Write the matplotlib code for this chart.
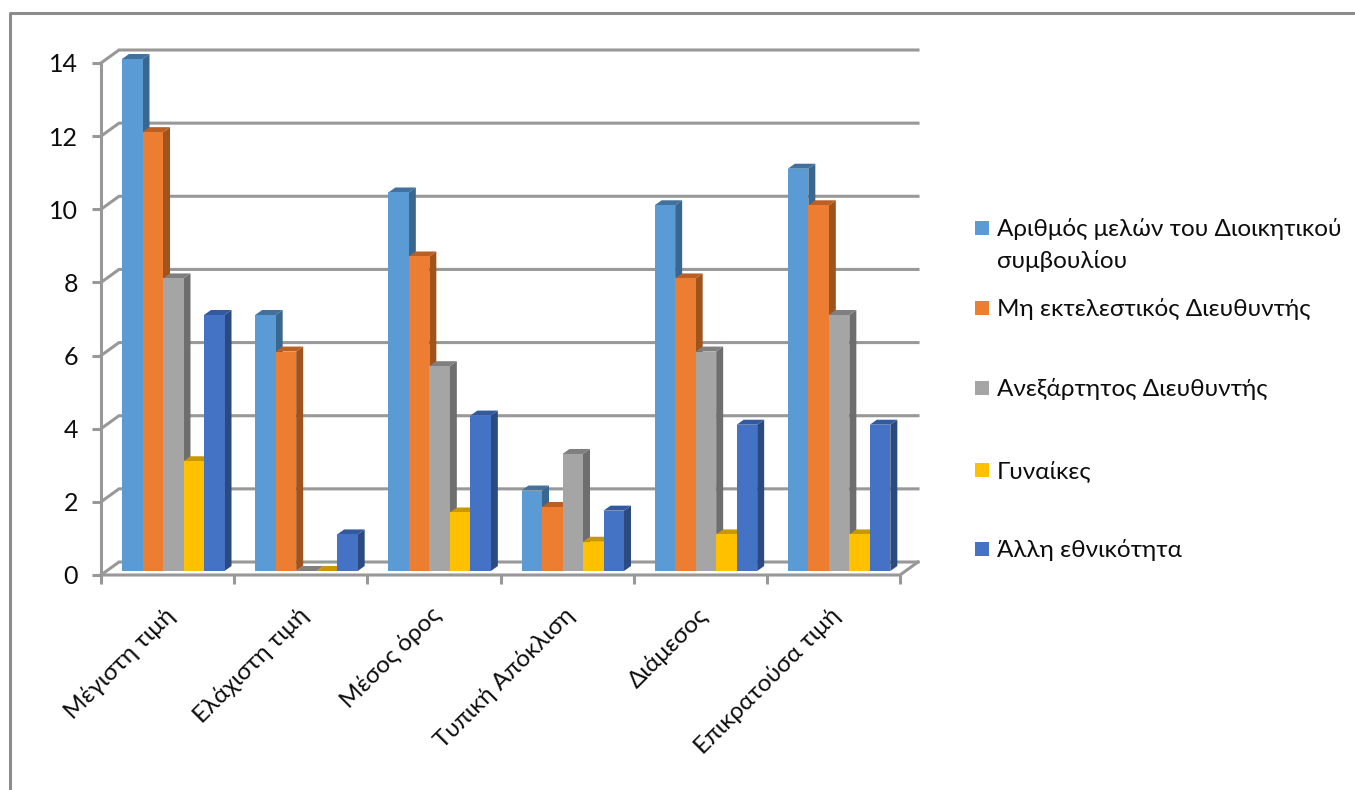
import matplotlib
matplotlib.use('Agg')
import matplotlib.pyplot as plt
from matplotlib.patches import Polygon, Rectangle
from matplotlib.transforms import ScaledTranslation

plt.rcParams['font.family'] = ['Lato', 'Open Sans', 'DejaVu Sans']

categories = ['Μέγιστη τιμή', 'Ελάχιστη τιμή', 'Μέσος όρος',
              'Τυπική Απόκλιση', 'Διάμεσος', 'Επικρατούσα τιμή']
series_names = ['Αριθμός μελών του Διοικητικού\nσυμβουλίου',
                'Μη εκτελεστικός Διευθυντής',
                'Ανεξάρτητος Διευθυντής',
                'Γυναίκες',
                'Άλλη εθνικότητα']

members = [14, 7, 10.35, 2.2, 10, 11]
non_exec = [12, 6, 8.6, 1.75, 8, 10]
independent = [8, 0, 5.6, 3.2, 6, 7]
women = [3, 0, 1.6, 0.8, 1, 1]
other_nat = [7, 1, 4.25, 1.65, 4, 4]
series = [members, non_exec, independent, women, other_nat]

front_colors = ['#5B9BD5', '#ED7D31', '#A5A5A5', '#FFC000', '#4472C4']
top_colors = ['#41719C', '#BC5F22', '#7F7F7F', '#C99700', '#335A9E']
side_colors = ['#39678F', '#A0541D', '#6E6E6E', '#AD8200', '#2A4A80']

yticks = [0, 2, 4, 6, 8, 10, 12, 14]
grid_color = '#989898'
text_color = '#0d0d0d'

W, H = 1355, 790
fig = plt.figure(figsize=(W / 100, H / 100), dpi=100)
ax = fig.add_axes([101 / W, (H - 575) / H, 799 / W, 512 / H])
ax.set_xlim(0, 6)
ax.set_ylim(0, 14)
for s in ax.spines.values():
    s.set_visible(False)
ax.patch.set_visible(False)

# pixel sizes expressed in axis units
ux = 6 / 799
uy = 14 / 512

# outer frame of the chart object
fig.add_artist(plt.Line2D([10 / W, 10 / W, 1], [0, 1 - 13 / H, 1 - 13 / H],
                          color='#8C8C8C', lw=2.2, transform=fig.transFigure))

# back wall gridlines with their diagonal run to the front axis
wall_dx = 18 * ux
wall_dy = 13 * uy
for v in yticks:
    ax.plot([0, wall_dx, 6 + wall_dx], [v, v + wall_dy, v + wall_dy],
            color=grid_color, lw=2.2, clip_on=False, zorder=1,
            solid_joinstyle='miter')
ax.plot([0, 0], [0, 14], color=grid_color, lw=2.2, clip_on=False, zorder=1)
ax.plot([0, 6, 6 + wall_dx], [0, 0, wall_dy], color=grid_color, lw=2.2,
        clip_on=False, zorder=1, solid_joinstyle='miter')

# 3D columns, left to right so each front covers the previous side face
bar_w = 20.5 * ux
bar_start = 21 * ux
base = 4 * uy
depth_x = 7 * ux
depth_y = 5 * uy
for i in range(len(categories)):
    for j, values in enumerate(series):
        x0 = i + bar_start + j * bar_w
        x1 = x0 + bar_w
        v = values[i] + base
        z = 3 + i + j * 0.1
        ax.add_patch(Polygon([(x1, base), (x1 + depth_x, base + depth_y),
                              (x1 + depth_x, v + depth_y), (x1, v)],
                             fc=side_colors[j], ec='none', clip_on=False, zorder=z))
        ax.add_patch(Polygon([(x0, v), (x0 + depth_x, v + depth_y),
                              (x1 + depth_x, v + depth_y), (x1, v)],
                             fc=top_colors[j], ec='none', clip_on=False, zorder=z))
        ax.add_patch(Rectangle((x0, base), bar_w, values[i], fc=front_colors[j],
                               ec='none', clip_on=False, zorder=z + 0.01))

ax.set_yticks(yticks)
ax.set_xticks(range(7))
ax.set_xticklabels([])
ax.set_xticks([i + 0.5 for i in range(6)], minor=True)
ax.set_xticklabels(categories, minor=True, rotation=45, ha='right', va='top',
                   rotation_mode='anchor', fontsize=17.5, color=text_color)
ax.tick_params(axis='x', which='major', length=6.5, width=2.2, color=grid_color)
ax.tick_params(axis='x', which='minor', length=0)
ax.tick_params(axis='y', length=6.5, width=2.2, color=grid_color, pad=10,
               labelsize=18, labelcolor=text_color)
shift = ScaledTranslation(-4 / 100, -24 / 100, fig.dpi_scale_trans)
for lab in ax.get_xticklabels(minor=True):
    lab.set_transform(lab.get_transform() + shift)

# legend swatches and labels, first label wraps onto a second line
legend_y = [228, 308, 388, 470, 549]
for name, c, y in zip(series_names, front_colors, legend_y):
    fig.add_artist(Rectangle((975 / W, 1 - (y + 7) / H), 14 / W, 14 / H, fc=c,
                             ec='none', transform=fig.transFigure))
    fig.text(997 / W, 1 - (y - 10) / H, name, fontsize=17.5, color=text_color,
             va='top', ha='left', linespacing=1.58)

fig.savefig('out.png', dpi=100)
